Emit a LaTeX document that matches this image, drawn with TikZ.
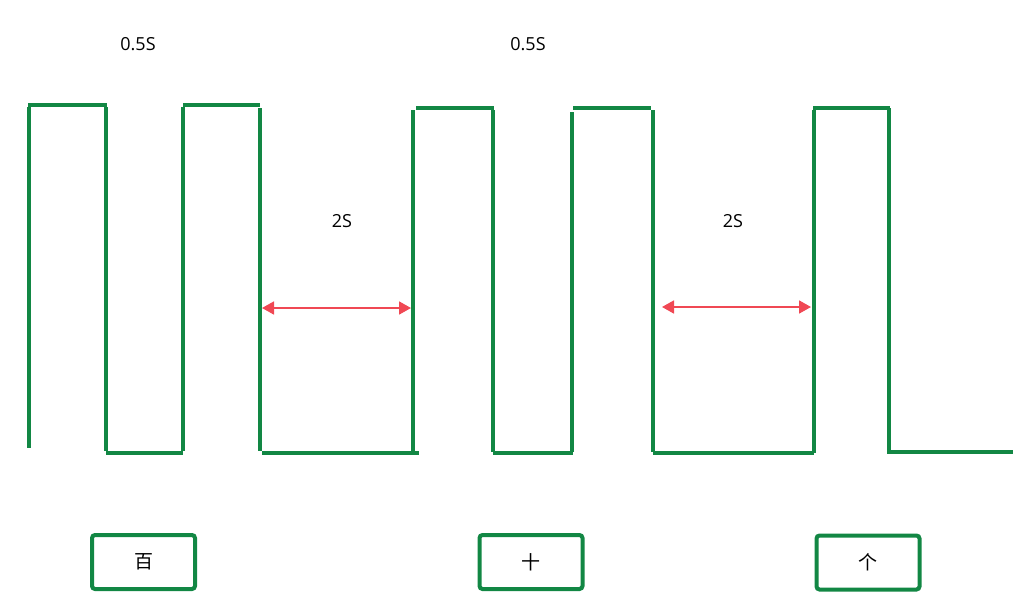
\documentclass[tikz,border=0pt]{standalone}
\usepackage{fontspec}
\setmainfont{Open Sans}
\newfontfamily\cjk{Noto Sans CJK SC}
\usetikzlibrary{arrows.meta}
\definecolor{wavegreen}{RGB}{18,135,68}
\definecolor{arrowred}{RGB}{240,72,84}
\tikzset{
  wave/.style={draw=wavegreen, line width=4pt},
  span/.style={draw=arrowred, line width=1.8pt, {Triangle[length=12pt,width=13pt]}-{Triangle[length=12pt,width=13pt]}},
  digitbox/.style={draw=wavegreen, line width=4pt, rounded corners=3pt, minimum width=103pt, minimum height=54pt, inner sep=0pt, font=\cjk\fontsize{19}{19}\selectfont},
  lbl/.style={font=\fontsize{18}{18}\selectfont, inner sep=0pt}
}
\begin{document}
\begin{tikzpicture}[x=1pt,y=-1pt]
\useasboundingbox (0,0) rectangle (1034,616);
% waveform segments
\draw[wave] (29,107) -- (29,448);
\draw[wave] (28,105) -- (107,105);
\draw[wave] (106,107) -- (106,451);
\draw[wave] (106,453) -- (183,453);
\draw[wave] (183,107) -- (183,451);
\draw[wave] (183,105) -- (260,105);
\draw[wave] (260,108) -- (260,451);
\draw[wave] (262,453) -- (419,453);
\draw[wave] (413,110) -- (413,453);
\draw[wave] (416,108) -- (494,108);
\draw[wave] (493,110) -- (493,452);
\draw[wave] (493,453) -- (573,453);
\draw[wave] (572,112) -- (572,452);
\draw[wave] (573,108) -- (651,108);
\draw[wave] (653,110) -- (653,452);
\draw[wave] (653,453) -- (814,453);
\draw[wave] (814,110) -- (814,453);
\draw[wave] (813,108) -- (890,108);
\draw[wave] (889,108) -- (889,454);
\draw[wave] (889,452) -- (1013,452);
% span arrows
\coordinate (a1l) at (262,308);
\coordinate (a1r) at (411,308);
\coordinate (a2l) at (662,307);
\coordinate (a2r) at (811,307);
\draw[span] (a1l) -- (a1r);
\draw[span] (a2l) -- (a2r);
% labels
\node[lbl] (t1) at (138,44) {0.5S};
\node[lbl] (t2) at (528,44) {0.5S};
\node[lbl] (d1) at (342,221) {2S};
\node[lbl] (d2) at (733,221) {2S};
% digit boxes
\node[digitbox] (bai) at (143.5,562) {百};
\node[digitbox] (shi) at (531,562) {十};
\node[digitbox] (ge) at (868,562.5) {个};
\end{tikzpicture}
\end{document}
